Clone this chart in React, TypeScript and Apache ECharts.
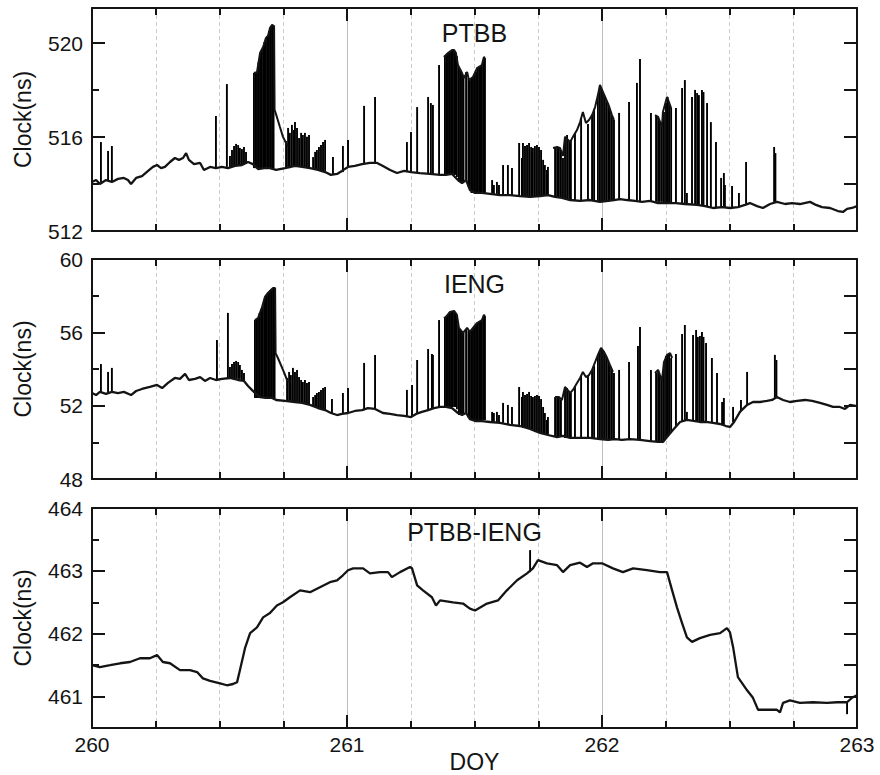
import React, { useEffect, useRef } from 'react';
import * as echarts from 'echarts';

const FONT = '"Liberation Sans", Arial, Helvetica, sans-serif';

// ---------- axes ----------
const doyMin = 260;
const doyMax = 263;
const xAxisTitle = 'DOY';
const yAxisTitle = 'Clock(ns)';
const panelTitles = ['PTBB', 'IENG', 'PTBB-IENG'];
const yRanges = [[512, 521.5], [48, 60], [460.5, 464]];
const yMajorTicks = [[512, 516, 520], [48, 52, 56, 60], [461, 462, 463, 464]];
const yMinorTicks = [[514, 518], [50, 54, 58], [461.5, 462.5, 463.5]];

// ---------- PTBB ----------
const ptbbBase = [[260.000,514.09],[260.016,514.17],[260.031,514.00],[260.055,514.17],[260.078,514.09],[260.102,514.22],[260.125,514.26],[260.141,514.17],[260.153,514.00],[260.173,514.26],[260.196,514.34],[260.220,514.56],[260.239,514.73],[260.255,514.81],[260.271,514.68],[260.286,514.73],[260.306,514.94],[260.325,515.11],[260.341,515.03],[260.357,515.11],[260.369,515.32],[260.380,515.03],[260.400,514.85],[260.424,514.90],[260.439,514.60],[260.463,514.73],[260.486,514.68],[260.510,514.73],[260.533,514.68],[260.561,514.77],[260.588,514.81],[260.612,514.94],[260.631,514.85],[260.651,514.64],[260.675,514.68],[260.698,514.68],[260.722,514.60],[260.757,514.68],[260.796,514.77],[260.824,514.73],[260.855,514.68],[260.886,514.60],[260.914,514.51],[260.937,514.39],[260.961,514.43],[260.980,514.56],[261.004,514.73],[261.031,514.77],[261.059,514.85],[261.090,514.90],[261.118,514.90],[261.141,514.77],[261.169,514.60],[261.196,514.47],[261.224,514.56],[261.251,514.51],[261.286,514.47],[261.325,514.43],[261.365,514.39],[261.388,514.39],[261.412,514.43],[261.435,514.17],[261.451,514.04],[261.467,514.17],[261.482,513.75],[261.502,513.62],[261.529,513.62],[261.561,513.58],[261.600,513.53],[261.639,513.53],[261.678,513.49],[261.718,513.45],[261.757,513.49],[261.788,513.53],[261.816,513.45],[261.843,513.41],[261.875,513.32],[261.914,513.28],[261.953,513.32],[261.992,513.24],[262.024,513.28],[262.047,513.32],[262.071,513.36],[262.098,513.32],[262.129,513.28],[262.157,513.24],[262.188,513.28],[262.220,513.19],[262.255,513.19],[262.290,513.19],[262.325,513.15],[262.373,513.11],[262.404,513.06],[262.435,512.98],[262.471,513.02],[262.502,512.98],[262.533,513.02],[262.561,513.11],[262.580,513.19],[262.608,513.06],[262.631,512.98],[262.659,513.15],[262.686,513.24],[262.718,513.15],[262.745,513.19],[262.776,513.15],[262.816,513.24],[262.839,513.11],[262.863,513.02],[262.894,512.98],[262.925,512.85],[262.945,512.81],[262.961,512.94],[262.980,512.98],[263.000,513.06]];

const ptbbUpperA = [[260.635,518.73],[260.647,518.77],[260.659,519.58],[260.671,519.84],[260.682,520.22],[260.690,520.31],[260.698,520.65],[260.706,520.78],[260.714,520.73],[260.716,517.16],[260.725,516.86],[260.737,516.43],[260.749,516.01],[260.761,515.75],[260.769,515.62]];
const ptbbUpperB = [[261.380,519.41],[261.396,519.58],[261.412,519.71],[261.420,519.71],[261.427,519.58],[261.435,519.07],[261.451,518.73],[261.459,518.52],[261.471,518.77],[261.478,518.43],[261.494,518.56],[261.510,518.94],[261.529,519.07],[261.537,519.41],[261.541,519.37]];
const ptbbUpperC = [[261.808,515.54],[261.824,515.58],[261.835,515.54],[261.847,515.20],[261.855,516.01],[261.875,515.79],[261.886,516.01],[261.902,516.30],[261.914,516.64],[261.925,517.07],[261.937,516.60],[261.949,516.73],[261.961,516.94],[261.973,517.28],[261.984,517.79],[261.992,518.22],[262.004,517.92],[262.016,517.62],[262.027,517.33],[262.039,516.94],[262.047,516.73]];
const ptbbUpperD = [[262.208,516.94],[262.220,516.86],[262.235,516.43],[262.239,517.07],[262.255,517.71],[262.271,517.24]];

// spikes: [doy, low, high]
const ptbbSpikes = [[260.035,514.09,515.79],[260.063,514.13,515.41],[260.078,514.09,515.62],
[260.486,514.68,516.90],[260.529,514.73,518.26],
[260.541,514.73,515.20],[260.549,514.73,515.45],[260.557,514.73,515.62],[260.565,514.77,515.71],[260.573,514.77,515.66],[260.580,514.77,515.54],[260.588,514.81,515.49],[260.596,514.81,515.58],[260.604,514.85,515.37],
[260.635,514.68,518.73],[260.641,514.68,518.77],[260.647,514.68,518.77],[260.653,514.68,519.20],[260.659,514.64,519.58],[260.665,514.68,519.71],[260.671,514.68,519.84],[260.676,514.68,520.05],[260.682,514.68,520.22],[260.688,514.68,520.31],[260.694,514.68,520.52],[260.700,514.68,520.69],[260.706,514.68,520.78],[260.712,514.68,520.73],
[260.761,514.68,515.83],[260.769,514.68,516.39],[260.776,514.68,516.18],[260.784,514.73,516.52],[260.792,514.73,516.30],[260.796,514.73,516.64],[260.804,514.77,516.39],[260.812,514.77,515.96],[260.820,514.73,516.18],[260.827,514.73,516.09],[260.835,514.73,516.18],[260.843,514.73,516.01],[260.851,514.68,516.09],[260.867,514.64,515.15],[260.875,514.64,515.37],[260.882,514.64,515.45],[260.890,514.60,515.58],[260.898,514.60,515.66],[260.906,514.56,515.79],[260.914,514.56,515.88],
[260.945,514.43,515.15],[260.984,514.51,515.62],[261.004,514.73,515.88],[261.067,514.85,517.33],[261.110,514.90,517.71],
[261.235,514.51,515.79],[261.251,514.51,516.22],[261.275,514.47,517.28],[261.318,514.43,517.71],[261.329,514.43,517.45],[261.337,514.43,517.37],[261.361,514.39,519.07],
[261.384,514.39,519.45],[261.390,514.39,519.50],[261.396,514.39,519.58],[261.402,514.39,519.62],[261.408,514.39,519.67],[261.414,514.39,519.71],[261.420,514.39,519.71],[261.425,514.39,519.62],[261.431,514.30,519.45],[261.439,514.09,518.97],[261.445,514.09,518.86],[261.451,514.04,518.73],[261.457,514.09,518.56],[261.467,514.17,518.77],[261.476,513.90,518.50],[261.482,513.75,518.43],[261.488,513.62,518.50],[261.494,513.62,518.56],[261.500,513.62,518.65],[261.506,513.62,518.80],[261.512,513.62,518.94],[261.518,513.62,519.00],[261.524,513.62,519.03],[261.529,513.62,519.07],[261.535,513.62,519.30],[261.541,513.62,519.37],
[261.569,513.62,514.17],[261.576,513.58,513.96],[261.588,513.58,514.09],[261.596,513.53,513.96],[261.612,513.53,514.81],[261.631,513.53,514.81],[261.647,513.53,514.68],[261.675,513.49,515.75],[261.686,513.49,515.11],
[261.690,513.47,515.75],[261.698,513.47,515.62],[261.706,513.47,515.66],[261.714,513.45,515.75],[261.722,513.45,515.58],[261.729,513.45,515.54],[261.737,513.47,515.62],[261.745,513.47,515.66],[261.753,513.49,515.58],[261.761,513.49,515.45],[261.769,513.49,515.03],[261.776,513.51,514.81],[261.784,513.53,514.60],[261.788,513.53,514.73],
[261.816,513.45,515.54],[261.824,513.45,515.58],[261.831,513.45,515.54],[261.839,513.41,515.45],[261.847,513.41,515.11],[261.855,513.36,516.01],[261.863,513.36,516.09],[261.871,513.36,515.83],[261.878,513.32,515.88],[261.894,513.32,516.18],[261.918,513.28,516.81],[261.945,513.32,516.56],[261.961,513.32,516.94],[261.969,513.32,517.20],[261.984,513.28,517.79],[261.992,513.24,518.22],[262.000,513.24,518.05],[262.008,513.24,517.79],[262.016,513.24,517.62],[262.024,513.28,517.45],[262.031,513.28,517.16],[262.039,513.32,516.94],[262.047,513.32,516.73],
[262.067,513.36,517.03],[262.106,513.32,517.50],[262.137,513.28,518.31],[262.149,513.28,519.33],[262.192,513.28,517.03],
[262.212,513.24,516.94],[262.220,513.24,516.86],[262.227,513.24,516.69],[262.235,513.24,516.47],[262.243,513.19,517.07],[262.251,513.19,517.45],[262.257,513.19,517.71],[262.263,513.19,517.50],[262.271,513.19,517.24],
[262.290,513.19,517.24],[262.314,513.19,518.09],[262.325,513.15,518.43],[262.333,513.15,513.62],[262.353,513.15,517.71],[262.365,513.15,518.01],[262.373,513.11,517.88],[262.380,513.11,517.79],[262.392,513.11,518.01],[262.398,513.11,517.92],[262.412,513.06,517.45],[262.427,513.02,516.64],[262.447,513.02,515.79],[262.467,513.02,514.26],[262.478,513.02,514.47],[262.482,513.02,513.96],[262.510,512.98,513.92],[262.537,513.02,513.62],[262.565,513.11,514.94],[262.675,513.24,515.58],[262.680,513.24,515.32]];

// ---------- IENG ----------
const iengBase = [[260.000,52.69],[260.016,52.58],[260.031,52.75],[260.055,52.64],[260.078,52.75],[260.102,52.69],[260.125,52.75],[260.153,52.58],[260.173,52.80],[260.196,52.91],[260.227,53.02],[260.255,53.13],[260.275,52.96],[260.298,53.24],[260.325,53.51],[260.345,53.46],[260.365,53.73],[260.380,53.40],[260.404,53.46],[260.424,53.56],[260.443,53.35],[260.463,53.51],[260.486,53.40],[260.510,53.46],[260.541,53.51],[260.573,53.40],[260.596,53.35],[260.612,53.07],[260.627,52.86],[260.643,52.64],[260.659,52.47],[260.682,52.42],[260.706,52.42],[260.722,52.31],[260.757,52.26],[260.796,52.20],[260.824,52.15],[260.855,52.04],[260.886,51.87],[260.914,51.76],[260.937,51.60],[260.961,51.49],[260.980,51.55],[261.004,51.60],[261.031,51.71],[261.059,51.76],[261.082,51.87],[261.110,51.82],[261.141,51.60],[261.169,51.55],[261.196,51.49],[261.224,51.44],[261.251,51.38],[261.271,51.55],[261.294,51.66],[261.318,51.76],[261.341,51.87],[261.365,51.93],[261.388,51.93],[261.412,51.87],[261.435,51.60],[261.451,51.49],[261.467,51.60],[261.482,51.27],[261.506,51.16],[261.529,51.16],[261.561,51.11],[261.600,51.06],[261.639,50.95],[261.678,50.89],[261.718,50.73],[261.757,50.51],[261.788,50.40],[261.824,50.29],[261.847,50.35],[261.875,50.24],[261.914,50.24],[261.953,50.24],[261.992,50.18],[262.024,50.13],[262.051,50.18],[262.078,50.13],[262.110,50.18],[262.149,50.13],[262.188,50.07],[262.220,50.02],[262.239,50.02],[262.255,50.29],[262.278,50.67],[262.306,51.11],[262.333,51.22],[262.365,51.16],[262.384,51.11],[262.408,51.11],[262.435,51.06],[262.463,51.00],[262.486,50.89],[262.502,50.84],[262.518,51.11],[262.541,51.66],[262.569,52.04],[262.592,52.20],[262.620,52.20],[262.647,52.26],[262.667,52.31],[262.686,52.47],[262.710,52.31],[262.737,52.20],[262.765,52.26],[262.796,52.31],[262.824,52.26],[262.855,52.15],[262.882,52.04],[262.906,51.93],[262.933,51.93],[262.953,51.82],[262.973,52.04],[263.000,51.98]];

const iengUpperA = [[260.639,56.67],[260.651,56.78],[260.667,57.38],[260.678,57.93],[260.690,58.15],[260.702,58.31],[260.710,58.42],[260.718,58.42],[260.720,54.87],[260.729,54.60],[260.749,53.95],[260.765,53.40],[260.776,53.29]];
const iengUpperB = [[261.380,56.78],[261.388,56.84],[261.404,57.11],[261.420,57.17],[261.431,56.95],[261.439,56.24],[261.455,55.97],[261.471,56.24],[261.482,56.02],[261.494,56.24],[261.510,56.51],[261.529,56.67],[261.537,56.95],[261.541,56.89]];
const iengUpperC = [[261.816,52.47],[261.831,52.47],[261.843,52.31],[261.855,53.02],[261.875,52.69],[261.886,52.86],[261.902,53.24],[261.914,53.51],[261.925,53.84],[261.937,53.56],[261.949,53.67],[261.961,53.95],[261.973,54.38],[261.984,54.77],[261.996,55.15],[262.008,54.93],[262.020,54.60],[262.031,54.22],[262.043,53.84]];
const iengUpperD = [[262.208,53.78],[262.220,53.95],[262.235,53.35],[262.243,54.38],[262.255,54.77],[262.267,54.87],[262.275,54.60]];

const iengSpikes = [[260.035,52.69,54.27],[260.063,52.69,53.84],[260.078,52.75,54.06],
[260.490,53.40,55.58],[260.533,53.46,57.06],
[260.541,53.46,54.11],[260.549,53.46,54.27],[260.557,53.46,54.38],[260.565,53.46,54.44],[260.573,53.46,54.38],[260.580,53.46,54.22],[260.588,53.40,53.95],[260.596,53.35,53.78],
[260.639,52.42,56.67],[260.645,52.42,56.73],[260.651,52.42,56.78],[260.657,52.42,57.06],[260.663,52.42,57.27],[260.669,52.42,57.44],[260.675,52.42,57.77],[260.680,52.42,57.93],[260.686,52.42,58.09],[260.692,52.42,58.20],[260.698,52.42,58.31],[260.704,52.42,58.37],[260.710,52.42,58.42],[260.716,52.36,58.42],
[260.765,52.26,53.51],[260.773,52.26,53.84],[260.780,52.26,53.67],[260.788,52.20,54.06],[260.796,52.20,53.84],[260.804,52.20,53.95],[260.812,52.15,53.56],[260.820,52.15,53.40],[260.827,52.15,53.29],[260.835,52.09,53.40],[260.843,52.09,53.24],[260.851,52.04,53.29],[260.867,51.98,52.47],[260.875,51.93,52.58],[260.882,51.87,52.69],[260.890,51.87,52.75],[260.898,51.82,52.86],[260.906,51.82,52.96],[260.914,51.76,53.02],
[260.941,51.60,52.36],[260.984,51.55,52.69],[261.004,51.60,52.96],[261.067,51.76,54.33],[261.110,51.82,54.77],
[261.235,51.44,52.86],[261.255,51.44,53.13],[261.275,51.55,54.49],[261.318,51.76,55.09],[261.333,51.82,54.82],[261.337,51.82,54.77],[261.361,51.93,56.67],
[261.384,51.93,56.80],[261.390,51.93,56.86],[261.396,51.93,56.98],[261.402,51.93,57.08],[261.408,51.93,57.13],[261.414,51.93,57.15],[261.420,51.93,57.17],[261.425,51.93,57.06],[261.431,51.80,56.95],[261.439,51.49,56.24],[261.445,51.49,56.13],[261.451,51.49,56.02],[261.457,51.55,55.99],[261.467,51.55,56.18],[261.476,51.35,56.10],[261.482,51.22,56.02],[261.488,51.22,56.13],[261.494,51.22,56.24],[261.500,51.22,56.35],[261.506,51.22,56.45],[261.512,51.22,56.53],[261.518,51.22,56.58],[261.524,51.22,56.62],[261.529,51.22,56.67],[261.535,51.22,56.85],[261.541,51.22,56.89],
[261.569,51.16,51.66],[261.576,51.11,51.60],[261.588,51.11,51.66],[261.596,51.06,51.49],[261.612,51.06,52.15],[261.631,51.00,52.04],[261.647,50.95,51.93],[261.675,50.89,53.02],[261.686,50.84,52.47],
[261.690,50.78,52.75],[261.698,50.78,52.58],[261.706,50.73,52.64],[261.714,50.73,52.75],[261.722,50.67,52.53],[261.729,50.62,52.47],[261.737,50.56,52.53],[261.745,50.56,52.58],[261.753,50.51,52.53],[261.761,50.46,52.36],[261.769,50.46,51.93],[261.776,50.40,51.60],[261.784,50.40,51.22],[261.788,50.40,51.38],
[261.816,50.29,52.47],[261.824,50.29,52.47],[261.831,50.29,52.42],[261.839,50.29,52.31],[261.855,50.24,53.02],[261.863,50.24,52.96],[261.871,50.24,52.75],[261.878,50.24,52.69],[261.894,50.24,53.07],[261.918,50.24,53.62],[261.945,50.24,53.62],[261.961,50.24,53.95],[261.969,50.18,54.16],[261.984,50.18,54.77],[261.992,50.18,55.04],[262.000,50.18,55.09],[262.008,50.13,54.93],[262.016,50.13,54.71],[262.024,50.13,54.49],[262.031,50.13,54.22],[262.039,50.13,53.95],[262.047,50.18,53.78],
[262.067,50.13,53.95],[262.106,50.13,54.38],[262.141,50.13,55.26],[262.149,50.13,56.29],[262.192,50.07,53.95],
[262.212,50.02,53.78],[262.220,50.02,53.95],[262.227,50.02,53.67],[262.235,50.02,53.40],[262.243,50.07,54.38],[262.251,50.24,54.71],[262.257,50.29,54.77],[262.263,50.46,54.87],[262.271,50.57,54.60],
[262.290,50.84,54.82],[262.314,51.11,55.91],[262.325,51.16,56.40],[262.333,51.22,51.66],[262.357,51.16,55.86],[262.369,51.16,56.13],[262.376,51.11,55.75],[262.384,51.11,55.80],[262.392,51.11,56.02],[262.398,51.11,55.75],[262.408,51.11,55.42],[262.431,51.06,54.60],[262.451,51.06,53.78],[262.471,51.00,52.20],[262.478,50.95,52.42],[262.514,51.11,51.93],[262.545,51.71,52.31],[262.569,52.04,53.84],[262.678,52.42,54.77],[262.684,52.42,54.49]];

// ---------- PTBB-IENG ----------
const diffBase = [[260.000,461.50],[260.031,461.47],[260.071,461.50],[260.110,461.53],[260.149,461.55],[260.188,461.61],[260.227,461.61],[260.255,461.66],[260.278,461.55],[260.306,461.53],[260.345,461.42],[260.384,461.42],[260.412,461.39],[260.435,461.29],[260.463,461.25],[260.502,461.21],[260.529,461.18],[260.553,461.20],[260.569,461.23],[260.580,461.42],[260.600,461.77],[260.620,462.01],[260.647,462.10],[260.671,462.26],[260.698,462.33],[260.725,462.45],[260.749,462.50],[260.776,462.58],[260.816,462.69],[260.855,462.66],[260.894,462.74],[260.933,462.82],[260.961,462.85],[260.984,462.93],[261.004,463.01],[261.024,463.04],[261.063,463.04],[261.090,462.96],[261.129,462.98],[261.161,462.98],[261.176,462.90],[261.208,462.98],[261.247,463.06],[261.255,463.04],[261.275,462.77],[261.298,462.69],[261.333,462.58],[261.349,462.45],[261.365,462.53],[261.416,462.50],[261.455,462.48],[261.482,462.40],[261.502,462.37],[261.549,462.48],[261.592,462.53],[261.627,462.69],[261.667,462.85],[261.706,462.96],[261.729,463.04],[261.749,463.17],[261.784,463.12],[261.824,463.09],[261.847,462.98],[261.875,463.09],[261.914,463.13],[261.941,463.06],[261.965,463.12],[262.000,463.12],[262.043,463.04],[262.082,462.98],[262.122,463.04],[262.176,463.01],[262.227,462.98],[262.255,462.98],[262.275,462.69],[262.294,462.42],[262.314,462.17],[262.333,461.94],[262.353,461.87],[262.384,461.93],[262.424,461.98],[262.463,462.01],[262.490,462.09],[262.502,462.02],[262.514,461.79],[262.533,461.31],[262.569,461.10],[262.592,460.98],[262.612,460.79],[262.647,460.79],[262.686,460.79],[262.698,460.75],[262.710,460.90],[262.737,460.94],[262.776,460.90],[262.827,460.91],[262.882,460.90],[262.922,460.91],[262.961,460.91],[262.980,460.98],[263.000,461.02]];
const diffSpikes = [[261.718,462.98,463.33],[262.961,460.91,460.72]];

const panelBase = [ptbbBase, iengBase, diffBase];
const panelUpper = [
  [ptbbUpperA, ptbbUpperB, ptbbUpperC, ptbbUpperD],
  [iengUpperA, iengUpperB, iengUpperC, iengUpperD],
  [],
];
const panelSpikes = [ptbbSpikes, iengSpikes, diffSpikes];

// ---------- layout (pixels) ----------
const GRID_LEFT = 92;
const GRID_WIDTH = 765;
const panelTops = [8, 259, 508];
const panelHeights = [223, 220, 220];
const titleY = [33, 284, 532];
const xTitleY = 762;

const INK = '#141414';

function buildOption() {
  const grid: any[] = [];
  const xAxis: any[] = [];
  const yAxis: any[] = [];
  const series: any[] = [];
  const graphic: any[] = [];

  for (let i = 0; i < 3; i++) {
    grid.push({ left: GRID_LEFT, width: GRID_WIDTH, top: panelTops[i], height: panelHeights[i], containLabel: false, outerBoundsMode: 'none' });
    const axisLine = { show: true, onZero: false, lineStyle: { color: INK, width: 2 } };
    const tickStyle = { color: INK, width: 2 };
    const isBottom = i === 2;
    xAxis.push({
      gridIndex: i, type: 'value', position: 'bottom', min: doyMin, max: doyMax, interval: 1,
      axisLine,
      axisTick: { show: true, inside: true, length: 13, lineStyle: tickStyle },
      minorTick: { show: true, splitNumber: 4, length: 7, lineStyle: tickStyle },
      splitLine: { show: true, lineStyle: { color: '#bdbdbd', width: 1 } },
      minorSplitLine: { show: true, lineStyle: { color: '#cccccc', width: 1, type: [4, 3] } },
      axisLabel: { show: isBottom, fontSize: 21, color: INK, margin: 6, fontFamily: FONT },
    });
    xAxis.push({
      gridIndex: i, type: 'value', position: 'top', min: doyMin, max: doyMax, interval: 1,
      axisLine,
      axisTick: { show: true, inside: true, length: 13, lineStyle: tickStyle },
      minorTick: { show: true, splitNumber: 4, length: 7, lineStyle: tickStyle },
      splitLine: { show: false }, minorSplitLine: { show: false },
      axisLabel: { show: false },
    });
    const [ymin, ymax] = yRanges[i];
    yAxis.push({
      gridIndex: i, type: 'value', position: 'left', min: ymin, max: ymax,
      axisLine,
      axisTick: { show: true, inside: true, length: 13, customValues: yMajorTicks[i], lineStyle: tickStyle },
      axisLabel: { show: true, customValues: yMajorTicks[i], fontSize: 21, color: INK, margin: 9, fontFamily: FONT },
      splitLine: { show: false },
      name: yAxisTitle, nameLocation: 'middle', nameGap: 58,
      nameTextStyle: { fontSize: 23, color: INK, fontFamily: FONT },
    });
    yAxis.push({
      gridIndex: i, type: 'value', position: 'left', min: ymin, max: ymax,
      axisLine: { show: false },
      axisTick: { show: true, inside: true, length: 7, customValues: yMinorTicks[i], lineStyle: tickStyle },
      axisLabel: { show: false },
      splitLine: { show: false },
    });
    yAxis.push({
      gridIndex: i, type: 'value', position: 'right', min: ymin, max: ymax,
      axisLine,
      axisTick: { show: true, inside: true, length: 13, customValues: [...yMajorTicks[i], ...yMinorTicks[i]], lineStyle: tickStyle },
      axisLabel: { show: false },
      splitLine: { show: false },
    });

    const xi = 2 * i;
    const yi = 3 * i;
    series.push({
      type: 'custom', name: panelTitles[i] + ' spikes', xAxisIndex: xi, yAxisIndex: yi,
      data: panelSpikes[i], clip: true, silent: true, z: 3,
      encode: { x: 0, y: [1, 2] },
      renderItem: (params: any, api: any) => {
        const p1 = api.coord([api.value(0), api.value(1)]);
        const p2 = api.coord([api.value(0), api.value(2)]);
        return {
          type: 'line',
          shape: { x1: p1[0], y1: p1[1], x2: p2[0], y2: p2[1] },
          style: { stroke: '#000', lineWidth: 1.9 },
        };
      },
    });
    panelUpper[i].forEach((seg, k) => {
      series.push({
        type: 'line', name: panelTitles[i] + ' upper ' + k, xAxisIndex: xi, yAxisIndex: yi,
        data: seg, showSymbol: false, symbol: 'none', silent: true, z: 3,
        lineStyle: { color: INK, width: 2 },
      });
    });
    series.push({
      type: 'line', name: panelTitles[i], xAxisIndex: xi, yAxisIndex: yi,
      data: panelBase[i], showSymbol: false, symbol: 'none', silent: true, z: 4,
      lineStyle: { color: INK, width: 2.3 },
    });

    graphic.push({
      type: 'text', x: GRID_LEFT + GRID_WIDTH / 2, y: titleY[i], z: 10,
      style: { text: panelTitles[i], fontSize: 25, fontFamily: FONT, fill: INK, align: 'center', verticalAlign: 'middle' },
    });
  }

  graphic.push({
    type: 'text', x: GRID_LEFT + GRID_WIDTH / 2, y: xTitleY, z: 10,
    style: { text: xAxisTitle, fontSize: 23, fontFamily: FONT, fill: INK, align: 'center', verticalAlign: 'middle' },
  });

  return {
    animation: false,
    backgroundColor: '#ffffff',
    textStyle: { fontFamily: FONT },
    grid, xAxis, yAxis, series, graphic,
  };
}

export default function App() {
  const ref = useRef<HTMLDivElement>(null);
  useEffect(() => {
    if (!ref.current) return;
    const chart = echarts.init(ref.current, undefined, { renderer: 'svg' });
    chart.setOption(buildOption() as any);
    return () => chart.dispose();
  }, []);
  return (
    <div
      ref={ref}
      style={{ position: 'absolute', left: 0, top: 0, width: 880, height: 775, background: '#fff' }}
    />
  );
}
